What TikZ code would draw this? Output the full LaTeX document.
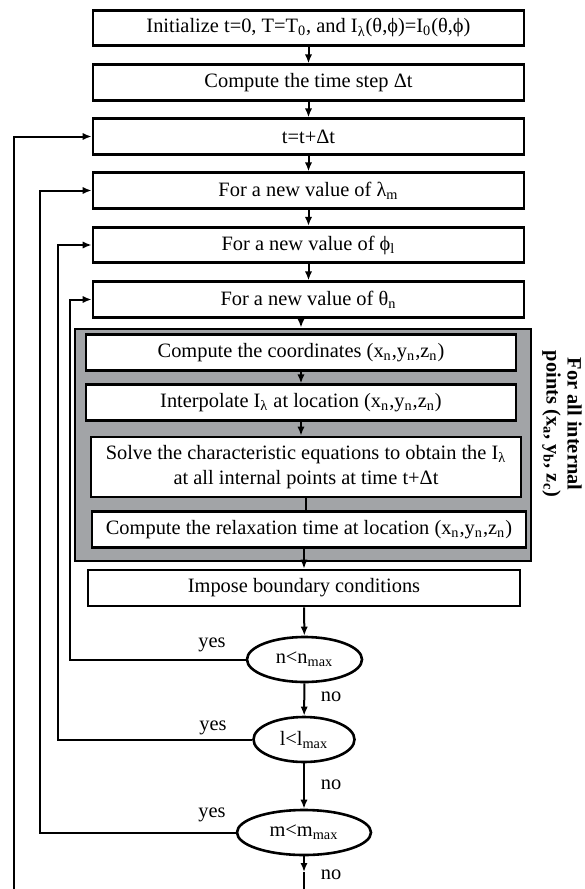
\documentclass[tikz,border=0pt]{standalone}
\usepackage{fontspec}
\setmainfont{Liberation Serif}
\usetikzlibrary{shapes.geometric,arrows.meta}
\definecolor{boxgray}{RGB}{162,164,167}

\begin{document}
\begin{tikzpicture}[x=0.5pt,y=-0.5pt,
    every node/.style={font=\fontsize{10.2}{12.4}\selectfont},
    box/.style={draw, line width=1.3pt, fill=white, minimum height=17.75pt, inner sep=0pt, align=center},
    cond/.style={draw, ellipse, line width=1.3pt, minimum height=22.5pt, inner sep=0pt},
    link/.style={line width=1pt, -{Latex[length=4.5pt,width=3.6pt]}},
    lbl/.style={inner sep=0pt}]

  \useasboundingbox (0,0) rectangle (584,889);

  % Outer steps
  \node[box, minimum width=215.5pt] (init)  at (308.5,28)    {Initialize t=0, T=T\textsubscript{0}, and I\textsubscript{λ}(θ,ϕ)=I\textsubscript{0}(θ,ϕ)};
  \node[box, minimum width=215.5pt] (dt)    at (308.5,82.5)  {Compute the time step Δt};
  \node[box, minimum width=215.5pt] (tstep) at (308.5,136.5) {t=t+Δt};
  \node[box, minimum width=215.5pt] (lam)   at (308.5,190.5) {For a new value of λ\textsubscript{m}};
  \node[box, minimum width=215.5pt] (phi)   at (308.5,245)   {For a new value of ϕ\textsubscript{l}};
  \node[box, minimum width=215.5pt] (theta) at (308.5,299.5) {For a new value of θ\textsubscript{n}};

  % Internal points
  \node[draw, line width=1.3pt, fill=boxgray, minimum width=228pt, minimum height=116pt] (grp) at (303,445) {};
  \node[box, minimum width=215pt] (in1) at (301,352.5) {Compute the coordinates (x\textsubscript{n},y\textsubscript{n},z\textsubscript{n})};
  \node[box, minimum width=215pt] (in2) at (301,402.5) {Interpolate I\textsubscript{λ} at location (x\textsubscript{n},y\textsubscript{n},z\textsubscript{n})};
  \node[box, minimum width=215pt, minimum height=30pt] (in3) at (306,467)
    {Solve the characteristic equations to obtain the I\textsubscript{λ}\\at all internal points at time t+Δt};
  \node[box, minimum width=217pt] (in4) at (309,529.5) {Compute the relaxation time at location (x\textsubscript{n},y\textsubscript{n},z\textsubscript{n})};
  \node[rotate=-90, align=center, font=\fontsize{10.2}{10.6}\selectfont\bfseries] (side) at (562,424)
    {For all internal\\points (x\textsubscript{a}, y\textsubscript{b}, z\textsubscript{c})};

  \node[box, minimum width=216pt, minimum height=18pt] (imp) at (304,588) {Impose boundary conditions};

  % Loop tests
  \node[cond, minimum width=57.5pt] (n) at (304.5,659.5) {n<n\textsubscript{max}};
  \node[cond, minimum width=50.5pt] (l) at (304,739.5)   {l<l\textsubscript{max}};
  \node[cond, minimum width=67pt]   (m) at (304,832.5)   {m<m\textsubscript{max}};

  \node[lbl] (yn) at (212,645) {yes};
  \node[lbl] (yl) at (213,728) {yes};
  \node[lbl] (ym) at (212,815) {yes};
  \node[lbl] (nn) at (331,697) {no};
  \node[lbl] (nl) at (331,785) {no};
  \node[lbl] (nm) at (331,875) {no};

  \coordinate (mtip) at (304,872);
  \coordinate (mbot) at (304,889);
  \coordinate (tbot) at (14,889);

  % Main flow
  \draw[link] (init) -- (dt);
  \draw[link] (dt) -- (tstep);
  \draw[link] (tstep) -- (lam);
  \draw[link] (lam) -- (phi);
  \draw[link] (phi) -- (theta);
  \draw[link] (theta.south -| in1) -- (in1 |- grp.north);
  \draw[link] (in1) -- (in2);
  \draw[link] (in2.south) -- (in2.south |- in3.north);
  \draw[line width=1pt] (in3.south) -- (in3.south |- in4.north);
  \draw[link] (in4.south -| imp) -- (imp.north);
  \draw[link] (imp) -- (n);
  \draw[link] (n) -- (l);
  \draw[link] (l) -- (m);
  \draw[link] (m) -- (mtip);
  \draw[line width=1pt] (mtip) -- (mbot);

  % Loops back
  \foreach \c/\b/\x in {n/theta/70, l/phi/58, m/lam/40} {
    \draw[link] (\c.west) -| (\x,450) |- (\b.west);
  }
  \draw[link] (tbot) |- (tstep.west);

\end{tikzpicture}
\end{document}
